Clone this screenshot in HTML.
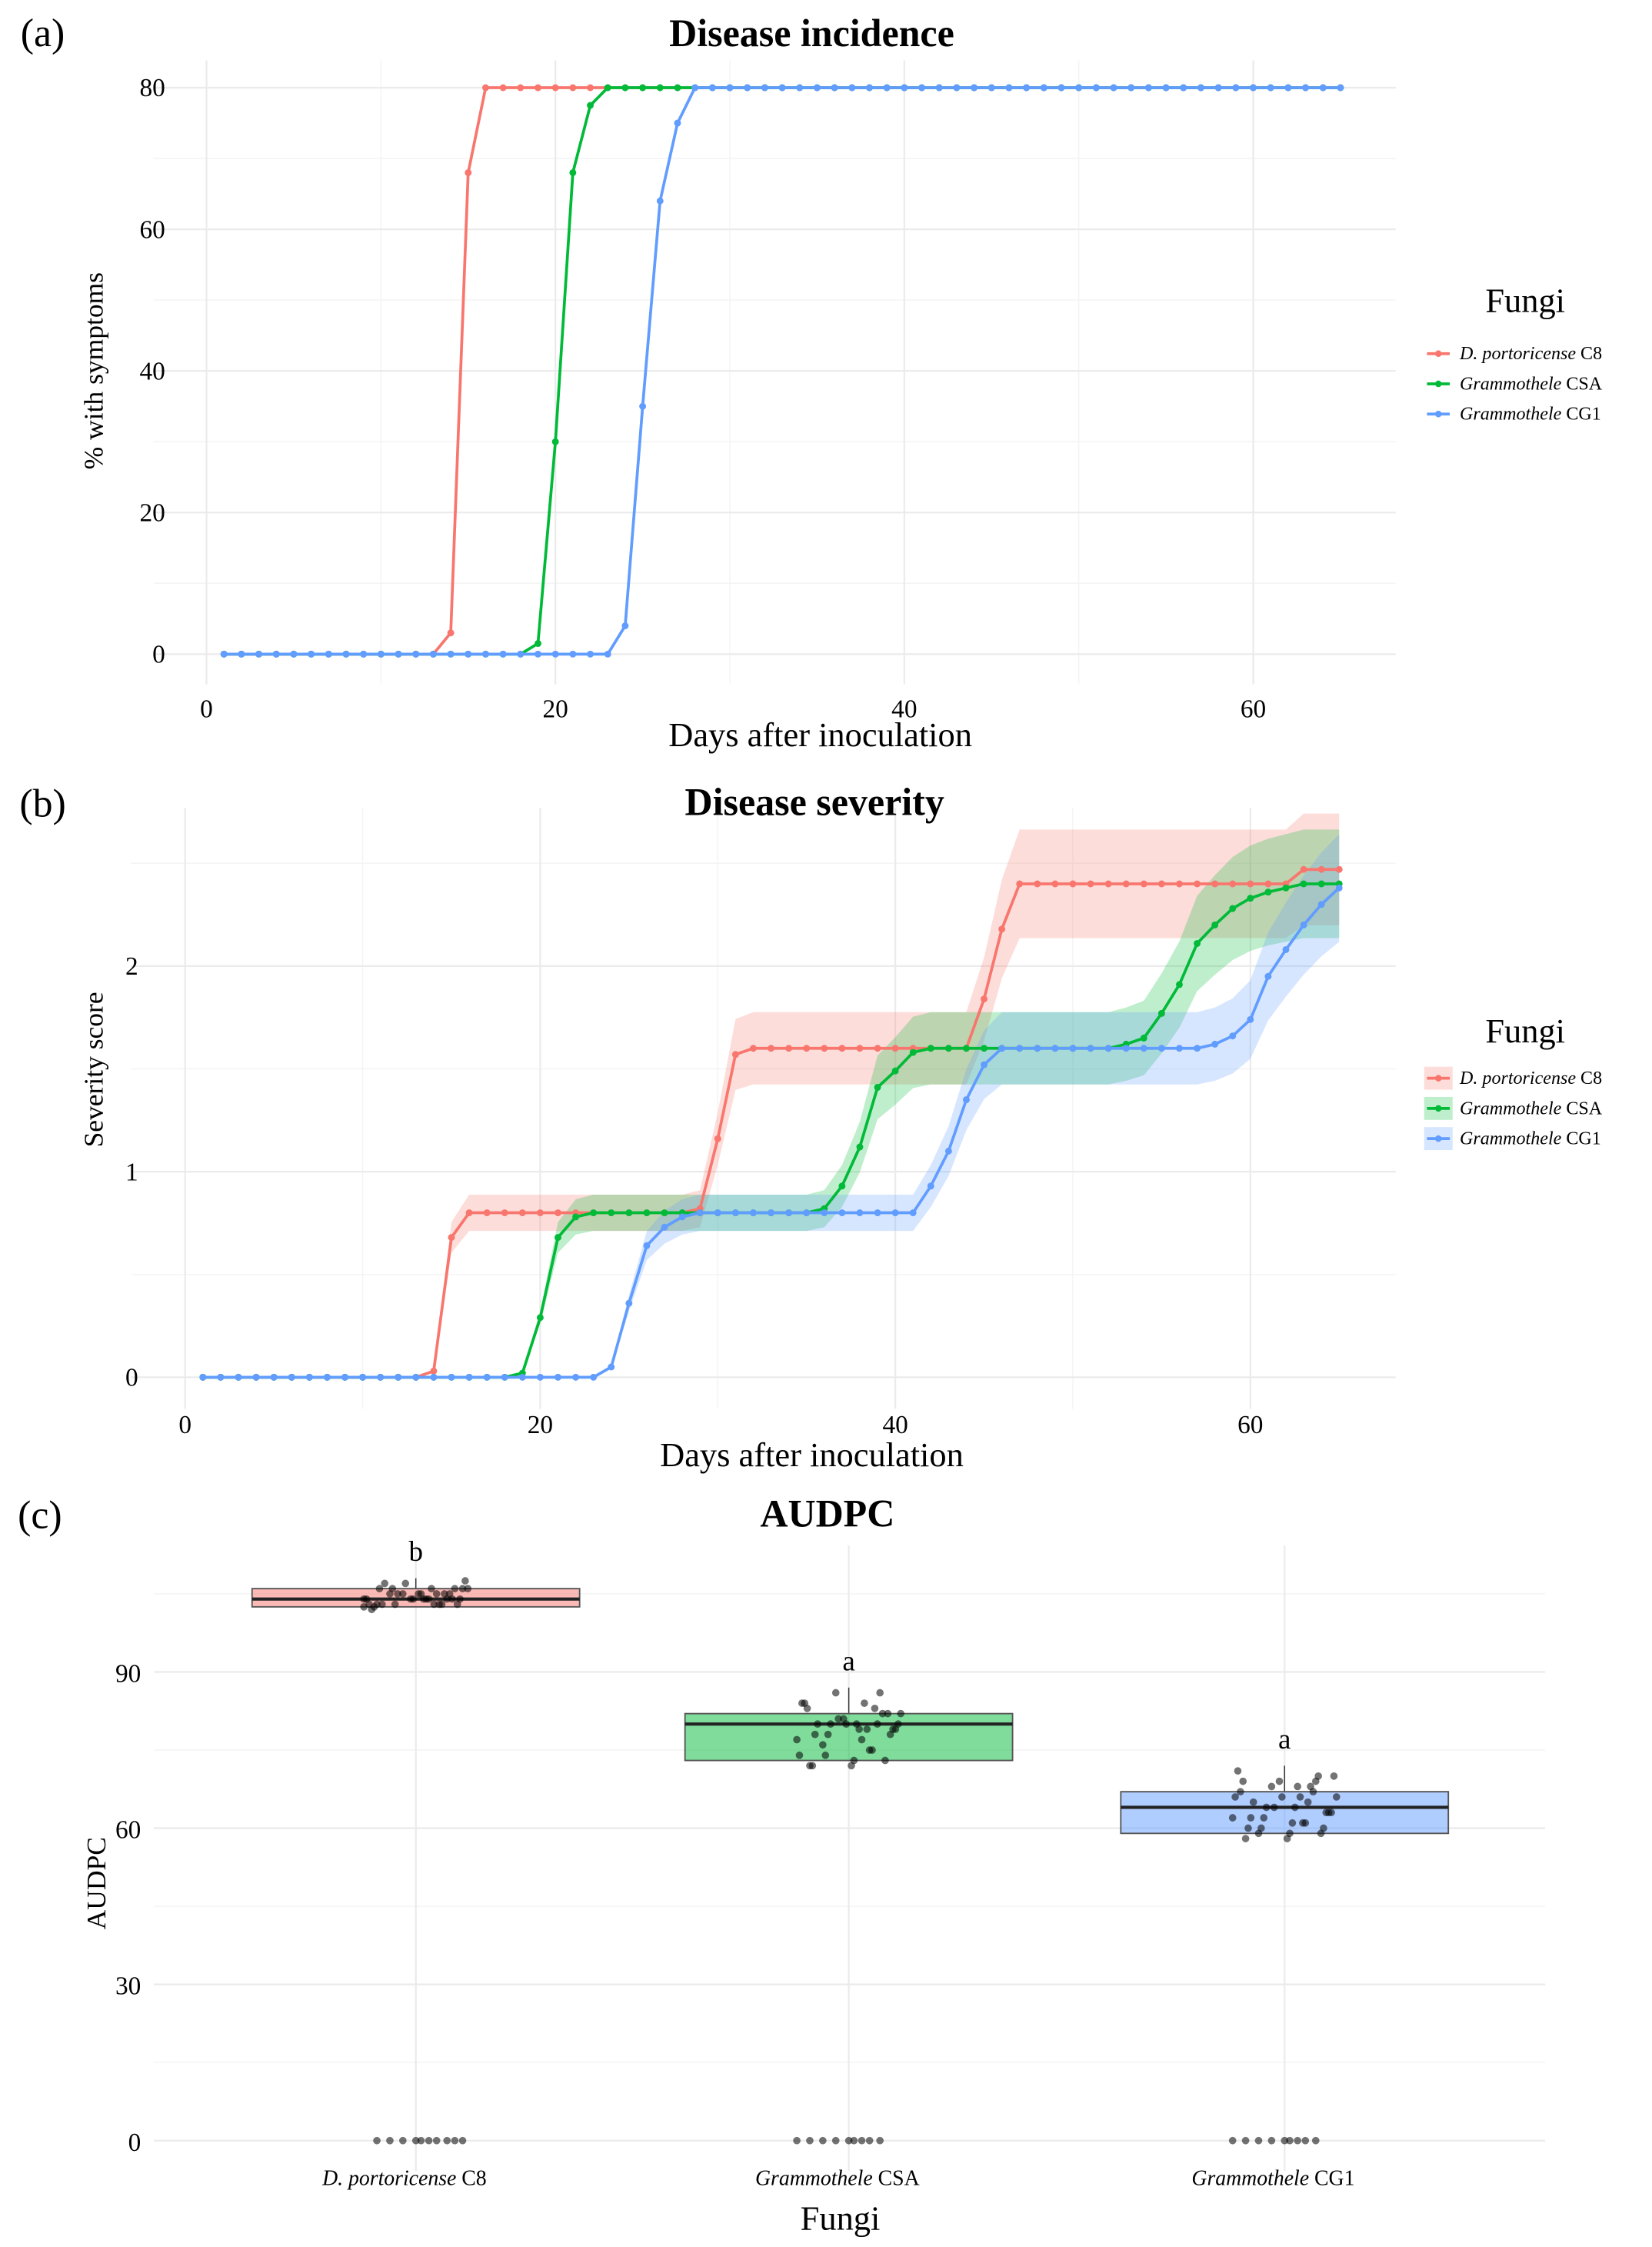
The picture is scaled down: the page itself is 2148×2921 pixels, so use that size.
<!DOCTYPE html>
<html><head><meta charset="utf-8"><style>
html,body{margin:0;padding:0;background:#fff}
svg{display:block;font-family:"Liberation Serif",serif}
</style></head><body>
<svg id="fig" width="2148" height="2921" viewBox="0 0 1160 1563" preserveAspectRatio="none" xmlns="http://www.w3.org/2000/svg"></svg>
<script>
// ---------- data ----------
const days = Array.from({length:65},(_,i)=>i+1);
const incRed   = [0,0,0,0,0,0,0,0,0,0,0,0,0,3,68,80,80,80,80,80,80,80,80,80,80,80,80,80,80,80,80,80,80,80,80,80,80,80,80,80,80,80,80,80,80,80,80,80,80,80,80,80,80,80,80,80,80,80,80,80,80,80,80,80,80];
const incGreen = [0,0,0,0,0,0,0,0,0,0,0,0,0,0,0,0,0,0,1.5,30,68,77.5,80,80,80,80,80,80,80,80,80,80,80,80,80,80,80,80,80,80,80,80,80,80,80,80,80,80,80,80,80,80,80,80,80,80,80,80,80,80,80,80,80,80,80];
const incBlue  = [0,0,0,0,0,0,0,0,0,0,0,0,0,0,0,0,0,0,0,0,0,0,0,4,35,64,75,80,80,80,80,80,80,80,80,80,80,80,80,80,80,80,80,80,80,80,80,80,80,80,80,80,80,80,80,80,80,80,80,80,80,80,80,80,80];
const sevRed   = [0,0,0,0,0,0,0,0,0,0,0,0,0,0.03,0.68,0.8,0.8,0.8,0.8,0.8,0.8,0.8,0.8,0.8,0.8,0.8,0.8,0.8,0.82,1.16,1.57,1.6,1.6,1.6,1.6,1.6,1.6,1.6,1.6,1.6,1.6,1.6,1.6,1.6,1.84,2.18,2.4,2.4,2.4,2.4,2.4,2.4,2.4,2.4,2.4,2.4,2.4,2.4,2.4,2.4,2.4,2.4,2.47,2.47,2.47];
const sevGreen = [0,0,0,0,0,0,0,0,0,0,0,0,0,0,0,0,0,0,0.02,0.29,0.68,0.78,0.8,0.8,0.8,0.8,0.8,0.8,0.8,0.8,0.8,0.8,0.8,0.8,0.8,0.82,0.93,1.12,1.41,1.49,1.58,1.6,1.6,1.6,1.6,1.6,1.6,1.6,1.6,1.6,1.6,1.6,1.62,1.65,1.77,1.91,2.11,2.2,2.28,2.33,2.36,2.38,2.4,2.4,2.4];
const sevBlue  = [0,0,0,0,0,0,0,0,0,0,0,0,0,0,0,0,0,0,0,0,0,0,0,0.05,0.36,0.64,0.73,0.78,0.8,0.8,0.8,0.8,0.8,0.8,0.8,0.8,0.8,0.8,0.8,0.8,0.8,0.93,1.1,1.35,1.52,1.6,1.6,1.6,1.6,1.6,1.6,1.6,1.6,1.6,1.6,1.6,1.6,1.62,1.66,1.74,1.95,2.08,2.2,2.3,2.38];
const ciFrac = 0.11;
const fungi = ["D. portoricense C8","Grammothele CSA","Grammothele CG1"];
const boxQ1 = [102.5,73,59];
const boxMed = [104,80,64];
const boxQ3 = [106,82,67];
const boxWhiskHi = [108,87,72];
const letters = ["b","a","a"];
const ptsRed = [103,104,105,106,107,104,103,102.5,105,106,104,103,105,107.5,104,103,102,106,105,104,103,104,106,105,103,104,105,107,106,103,104,102.5,105,104,103,106,105,104,0,0,0,0,0,0,0,0,0,0];
const ptsGreen = [84,86,86,82,80,79,78,77,75,74,73,72,72,80,81,83,84,84,80,79,78,80,82,76,75,74,80,81,79,78,77,83,82,80,79,72,73,0,0,0,0,0,0,0,0,0];
const ptsBlue = [71,69,68,66,65,64,63,62,61,60,59,58,58,70,69,68,67,66,64,63,62,61,60,59,65,66,67,64,63,62,68,69,70,66,61,60,59,0,0,0,0,0,0,0,0,0];
const jitter = [-0.18,0.12,-0.05,0.2,-0.12,0.04,0.16,-0.2,0.08,-0.09,0.14,-0.15,0.01,0.19,-0.02,0.1,-0.17,0.06,-0.07,0.17,-0.13,0.03,0.15,-0.1,0.09,-0.19,0.11,-0.04,0.18,-0.08,0.05,-0.16,0.13,-0.01,0.07,-0.14,0.02,-0.2,-0.15,-0.1,-0.05,0.0,0.02,0.05,0.08,0.12,0.15,0.18];

// ---------- helpers ----------
const NS="http://www.w3.org/2000/svg";
const svg=document.getElementById('fig');
function mk(tag,attrs,parent){const e=document.createElementNS(NS,tag);for(const k in attrs)e.setAttribute(k,attrs[k]);(parent||svg).appendChild(e);return e;}
function txt(s,x,y,opt,parent){const e=mk('text',Object.assign({x:x,y:y,'text-anchor':'middle','font-size':18,fill:'#000'},opt),parent);e.textContent=s;return e;}
const COLS=["#F8766D","#00BA38","#619CFF"];
const GRID="#ebebeb", GRIDM="#f4f4f4";

function panel(g,cfg){
  // grid
  cfg.minorY.forEach(v=>{const l=mk('line',{x1:cfg.x0,x2:cfg.x1,y1:cfg.sy(v),y2:cfg.sy(v),stroke:GRIDM,'stroke-width':0.8},g);});
  cfg.minorX.forEach(v=>{mk('line',{x1:cfg.sx(v),x2:cfg.sx(v),y1:cfg.y0,y2:cfg.y1,stroke:GRIDM,'stroke-width':0.8},g);});
  cfg.ticksY.forEach(v=>{mk('line',{x1:cfg.x0,x2:cfg.x1,y1:cfg.sy(v),y2:cfg.sy(v),stroke:GRID,'stroke-width':1.2},g);
    const t=txt(String(v),cfg.ylx,cfg.sy(v)+6,{'text-anchor':'end'},g);
    
    });
  cfg.ticksX.forEach(v=>{mk('line',{x1:cfg.sx(v),x2:cfg.sx(v),y1:cfg.y0,y2:cfg.y1,stroke:GRID,'stroke-width':1.2},g);
    const t=txt(String(v),cfg.sx(v),cfg.xly,{},g);
    
    });
}

function legend(g,yTitle,ys,ribbon){
  const t=txt("Fungi",1071,yTitle,{'font-size':24},g);
  
  
  fungi.forEach((f,i)=>{
    const eg=mk('g',{},g);
    
    
    if(ribbon) mk('rect',{x:1000,y:ys[i]-8,width:20,height:16,fill:COLS[i],opacity:0.25},eg);
    mk('line',{x1:1002,x2:1018,y1:ys[i],y2:ys[i],stroke:COLS[i],'stroke-width':2},eg);
    mk('circle',{cx:1010,cy:ys[i],r:2.3,fill:COLS[i]},eg);
    const parts=f.split(' ');
    const tt=mk('text',{x:1025,y:ys[i]+4,'font-size':13,fill:'#000'},eg);
    if(i===0){const a=mk('tspan',{'font-style':'italic'},tt);a.textContent="D. portoricense";const b=mk('tspan',{},tt);b.textContent=" C8";}
    else{const a=mk('tspan',{'font-style':'italic'},tt);a.textContent="Grammothele";const b=mk('tspan',{},tt);b.textContent=" "+parts[1];}
  });
}

// ---------- panel a ----------
{
  const g=mk('g',{});
  
  
  const sx=d=>145+(d-0)*(880-145)/60, sy=v=>455-v*(455-61)/80;
  panel(g,{x0:108,x1:980,y0:42,y1:476,sx,sy,ticksY:[0,20,40,60,80],minorY:[10,30,50,70],ticksX:[0,20,40,60],minorX:[10,30,50],ylx:116,xly:499});
  let t=txt("(a)",30,32,{'font-size':28},g);
  t=txt("Disease incidence",570,32,{'font-size':27,'font-weight':'bold'},g);
  t=txt("Days after inoculation",576,519,{'font-size':24},g);
  t=txt("% with symptoms",0,0,{'font-size':19,transform:'translate(72,258) rotate(-90)'},g);
  [incRed,incGreen,incBlue].forEach((s,k)=>{
    const sg=mk('g',{},g);
    
    
    mk('polyline',{points:days.map((d,i)=>sx(d)+','+sy(s[i])).join(' '),fill:'none',stroke:COLS[k],'stroke-width':2},sg);
    days.forEach((d,i)=>{const c=mk('circle',{cx:sx(d),cy:sy(s[i]),r:2.4,fill:COLS[k]},sg);
      
      });
  });
  legend(g,217,[246,267,288],false);
}

// ---------- panel b ----------
{
  const g=mk('g',{});
  
  
  const sx=d=>130+d*(878-130)/60, sy=v=>958-v*(958-672)/2;
  panel(g,{x0:92,x1:980,y0:562,y1:980,sx,sy,ticksY:[0,1,2],minorY:[0.5,1.5,2.5],ticksX:[0,20,40,60],minorX:[10,30,50],ylx:97,xly:997});
  let t=txt("(b)",30,568,{'font-size':28},g);
  t=txt("Disease severity",572,567,{'font-size':27,'font-weight':'bold'},g);
  t=txt("Days after inoculation",570,1020,{'font-size':24},g);
  t=txt("Severity score",0,0,{'font-size':19,transform:'translate(72,744) rotate(-90)'},g);
  const ser=[sevRed,sevGreen,sevBlue];
  ser.forEach((s,k)=>{
    const up=days.map((d,i)=>sx(d)+','+sy(s[i]*(1+ciFrac)));
    const lo=days.map((d,i)=>sx(d)+','+sy(s[i]*(1-ciFrac))).reverse();
    const r=mk('polygon',{points:up.concat(lo).join(' '),fill:COLS[k],opacity:0.25},g);
    
    
  });
  ser.forEach((s,k)=>{
    const sg=mk('g',{},g);
    
    
    mk('polyline',{points:days.map((d,i)=>sx(d)+','+sy(s[i])).join(' '),fill:'none',stroke:COLS[k],'stroke-width':2},sg);
    days.forEach((d,i)=>{const c=mk('circle',{cx:sx(d),cy:sy(s[i]),r:2.4,fill:COLS[k]},sg);
      
      });
  });
  legend(g,725,[750,771,792],true);
}

// ---------- panel c ----------
{
  const g=mk('g',{});
  
  
  const cx=[292,596,902], bw=230, catW=304;
  const sy=v=>1489-v*(1489-1163)/90;
  [15,45,75,105].forEach(v=>mk('line',{x1:108,x2:1085,y1:sy(v),y2:sy(v),stroke:GRIDM,'stroke-width':0.8},g));
  [0,30,60,90].forEach(v=>{mk('line',{x1:108,x2:1085,y1:sy(v),y2:sy(v),stroke:GRID,'stroke-width':1.2},g);
    const t=txt(String(v),99,sy(v)+7,{'text-anchor':'end'},g);
    
    });
  cx.forEach(x=>mk('line',{x1:x,x2:x,y1:1075,y2:1510,stroke:GRID,'stroke-width':1.2},g));
  let t=txt("(c)",28,1063,{'font-size':28},g);
  t=txt("AUDPC",581,1062,{'font-size':27,'font-weight':'bold'},g);
  t=txt("Fungi",590,1551,{'font-size':24},g);
  t=txt("AUDPC",0,0,{'font-size':19,transform:'translate(74,1310) rotate(-90)'},g);
  const pts=[ptsRed,ptsGreen,ptsBlue];
  fungi.forEach((f,k)=>{
    const bg=mk('g',{},g);
    
    
    mk('line',{x1:cx[k],x2:cx[k],y1:sy(boxQ3[k]),y2:sy(boxWhiskHi[k]),stroke:'#333','stroke-width':0.8},bg);
    mk('rect',{x:cx[k]-bw/2,y:sy(boxQ3[k]),width:bw,height:sy(boxQ1[k])-sy(boxQ3[k]),fill:COLS[k],'fill-opacity':0.5,stroke:'#555','stroke-width':1},bg);
    mk('line',{x1:cx[k]-bw/2,x2:cx[k]+bw/2,y1:sy(boxMed[k]),y2:sy(boxMed[k]),stroke:'#222','stroke-width':2.2},bg);
    const lt=txt(letters[k],cx[k],sy(boxWhiskHi[k])-12,{'font-size':20},g);
    
    
    pts[k].forEach((v,i)=>{
      const c=mk('circle',{cx:cx[k]+jitter[i%jitter.length]*catW*0.6,cy:sy(v),r:2.6,fill:'#000','fill-opacity':0.55},g);
      
      
    });
    const xl=mk('text',{x:cx[k]-8,y:1520,'text-anchor':'middle','font-size':15,fill:'#000'},g);
    
    
    if(k===0){const a=mk('tspan',{'font-style':'italic'},xl);a.textContent="D. portoricense";const b=mk('tspan',{},xl);b.textContent=" C8";}
    else{const a=mk('tspan',{'font-style':'italic'},xl);a.textContent="Grammothele";const b=mk('tspan',{},xl);b.textContent=" "+f.split(' ')[1];}
  });
}
</script>
</body></html>
